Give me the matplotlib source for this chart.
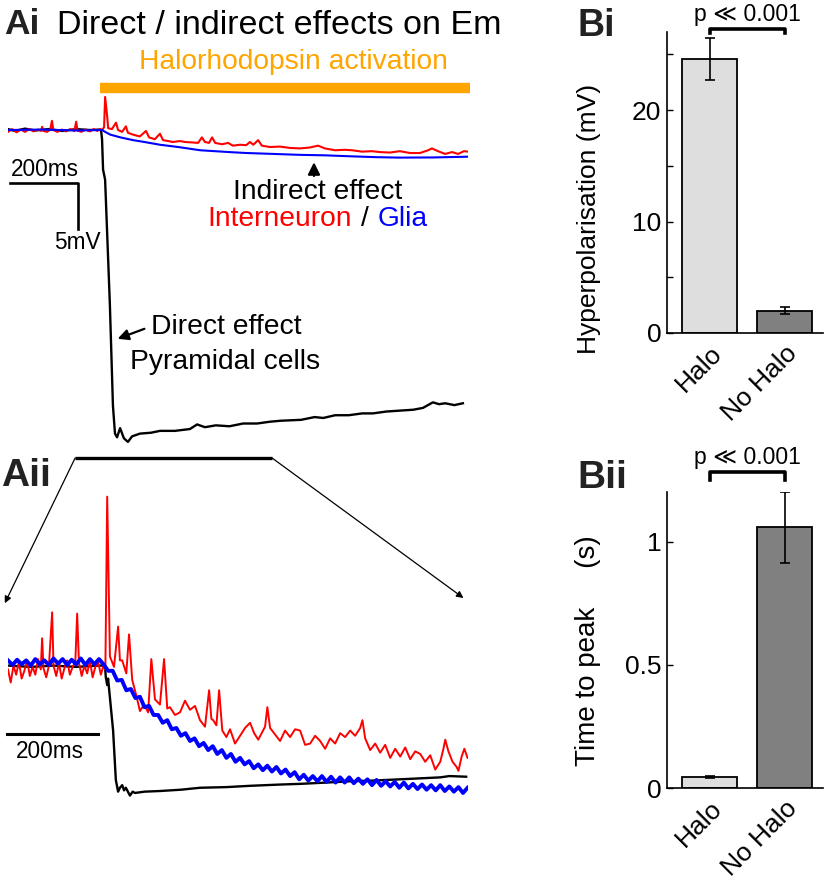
import numpy as np
import matplotlib
matplotlib.use("Agg")
import matplotlib.pyplot as plt
from matplotlib.patches import ConnectionPatch

plt.rcParams['font.family'] = ['Liberation Sans', 'DejaVu Sans']

# ---------------- data ----------------
# Ai: membrane potential (mV, relative to baseline) vs time (ms)
ai_black_t = [0, 20, 50, 80, 120, 160, 200, 240, 270, 273, 276, 279, 285, 299, 308, 314, 320, 329,
              340, 352, 364, 387, 420, 446, 490, 534, 555, 578, 610, 650, 690, 731, 770, 800, 860,
              900, 925, 960, 1000, 1040, 1071, 1110, 1150, 1190, 1218, 1247, 1265, 1283, 1310, 1335]
ai_black_v = [0.1, -0.1, 0.15, -0.05, 0.1, -0.1, 0.1, 0.0, 0.05, 0.0, -1.0, -4.3, -5.4, -19.0, -30.0,
              -33.0, -33.4, -32.4, -33.5, -33.9, -33.3, -33.0, -32.9, -32.7, -32.7, -32.5, -32.0, -32.3,
              -32.1, -32.2, -31.9, -31.9, -31.7, -31.6, -31.5, -31.2, -31.3, -31.0, -31.0, -30.8,
              -30.8, -30.6, -30.5, -30.4, -30.2, -29.6, -29.8, -29.7, -29.9, -29.7]

ai_red_t = [0, 12, 25, 38, 50, 62, 75, 88, 98, 100, 104, 115, 124, 129, 133, 145, 158, 170, 183, 195,
            200, 204, 215, 228, 240, 252, 262, 270, 276, 282, 285, 291, 294, 305, 317, 323, 335, 346,
            352, 367, 387, 405, 414, 431, 446, 455, 470, 484, 505, 519, 540, 558, 569, 578, 590, 599,
            608, 628, 646, 660, 681, 699, 710, 720, 734, 745, 769, 798, 828, 857, 886, 910, 930, 960,
            989, 1010, 1039, 1068, 1092, 1121, 1150, 1180, 1209, 1233, 1244, 1262, 1283, 1303, 1321,
            1338, 1350]
ai_red_v = [-0.2, 0.1, -0.25, 0.05, -0.2, 0.1, -0.15, 0.05, -0.1, 0.35, -0.1, -0.2, 0.05, 1.0, 0.0,
            -0.2, 0.05, -0.15, 0.1, -0.1, 0.9, -0.05, -0.2, 0.05, -0.15, 0.1, -0.1, 0.1, 0.0, 0.3,
            3.6, 1.5, 0.2, 0.1, 0.8, 0.0, -0.2, 0.4, -0.3, -0.5, -0.7, -0.1, -0.8, -1.0, -0.4, -1.1,
            -1.2, -1.3, -1.2, -1.3, -1.35, -1.4, -0.8, -1.3, -1.4, -0.8, -1.4, -1.55, -1.4, -1.7,
            -1.6, -1.65, -1.3, -1.6, -1.1, -1.7, -1.85, -1.8, -1.95, -2.0, -1.9, -1.7, -2.0, -2.2,
            -2.15, -2.2, -2.35, -2.3, -2.4, -2.45, -2.3, -2.5, -2.5, -2.2, -2.0, -2.3, -2.6, -2.4,
            -2.6, -2.3, -2.35]

ai_blue_t = [0, 100, 200, 276, 285, 300, 330, 367, 400, 446, 500, 564, 650, 700, 780, 857, 930,
             1000, 1080, 1150, 1250, 1350]
ai_blue_v = [0.0, 0.05, -0.05, 0.0, -0.2, -0.5, -0.8, -1.1, -1.3, -1.6, -1.85, -2.2, -2.4, -2.5,
             -2.6, -2.7, -2.75, -2.85, -2.95, -3.0, -2.98, -2.9]

light_on, light_off = 270, 1356          # halorhodopsin illumination (ms)
zoom_start, zoom_end = 197, 775          # window expanded in Aii (ms)

# Aii: expanded view (normalised units, black min ~ -10)
aii_black_t = [0, 50, 100, 150, 200, 213, 215, 218, 220, 231, 237, 242, 246, 251, 255, 259, 268,
               274, 279, 300, 334, 380, 422, 480, 532, 600, 642, 700, 752, 800, 862, 950, 970, 1007]
aii_black_v = [-0.2, -0.3, -0.2, -0.3, -0.2, -0.2, -1.1, -1.7, -1.2, -5.2, -9.0, -9.9, -9.6, -9.4,
               -9.8, -9.6, -10.2, -9.9, -10.0, -9.9, -9.85, -9.75, -9.6, -9.55, -9.45, -9.35, -9.3,
               -9.2, -9.1, -9.05, -8.95, -8.8, -8.7, -8.75]

aii_red_t = [0, 6, 12, 18, 24, 30, 36, 42, 48, 54, 60, 66, 72, 75, 78, 84, 90, 97, 100, 106, 112,
             118, 124, 130, 136, 142, 148, 152, 156, 162, 168, 174, 180, 186, 192, 198, 204, 210,
             214, 218, 224, 233, 242, 246, 251, 260, 266, 273, 282, 290, 299, 308, 315, 323, 334,
             343, 350, 356, 367, 378, 389, 400, 411, 422, 433, 442, 447, 451, 458, 464, 471, 480,
             488, 499, 510, 521, 532, 541, 550, 559, 565, 570, 576, 587, 598, 609, 620, 631, 642,
             653, 664, 675, 686, 697, 708, 719, 730, 741, 752, 763, 774, 779, 785, 796, 807, 818,
             829, 840, 851, 862, 873, 884, 895, 906, 917, 928, 939, 950, 957, 961, 968, 977, 986,
             990, 997, 1003, 1010]
aii_red_v = [-0.5, -1.5, -0.2, -0.9, 0.1, -1.2, -0.6, 0.2, -1.0, -0.3, -0.9, 0.3, -0.5, 1.9, -0.4,
             -1.1, -0.2, 3.9, -0.2, -1.0, 0.0, -1.2, -0.4, 0.2, -0.9, -0.3, 0.1, 3.8, 0.0, -1.0,
             -0.2, -0.8, 0.2, -1.1, -0.3, 0.1, -0.9, -0.2, -0.5, 12.8, 0.5, -0.3, 2.8, 0.2, 0.2,
             -0.8, 2.2, -1.3, -2.5, -3.7, -3.2, -3.8, 0.3, -2.8, -3.2, 0.3, -3.5, -3.4, -4.0, -3.8,
             -2.9, -3.6, -3.3, -4.4, -4.9, -2.1, -4.3, -4.4, -4.8, -2.1, -5.2, -5.7, -5.1, -6.2,
             -5.6, -5.0, -4.6, -5.4, -5.9, -5.3, -4.9, -3.4, -5.0, -5.5, -6.0, -5.2, -5.7, -5.1,
             -5.2, -6.3, -6.2, -5.6, -6.0, -6.6, -5.8, -6.2, -5.4, -5.7, -5.2, -5.6, -5.0, -4.4,
             -5.8, -6.7, -6.2, -6.9, -6.3, -7.3, -6.6, -7.2, -6.5, -7.4, -6.8, -7.0, -7.6, -7.1,
             -8.2, -7.6, -6.6, -5.9, -6.8, -7.6, -8.0, -8.3, -7.2, -6.6, -7.3]

aii_blue_t = np.arange(0, 1011, 10)
aii_blue_v = [0.2, -0.15, 0.25, -0.1, 0.2, -0.2, 0.3, -0.1, 0.2, -0.15, 0.35,
              -0.05, 0.3, -0.15, 0.25, -0.1, 0.35, -0.15, 0.3, -0.1, 0.3, -0.1,
              -0.6, -0.6, -1.35, -1.3, -2.1, -2.0, -2.7, -2.6, -3.4, -3.3,
              -4.0, -4.0, -4.6, -4.4, -5.1, -5.0, -5.6, -5.4, -6.0, -5.8,
              -6.4, -6.15, -6.7, -6.4, -7.0, -6.7, -7.3, -7.0, -7.6, -7.3,
              -7.8, -7.55, -8.1, -7.8, -8.25, -7.9, -8.35, -8.0, -8.5, -8.2,
              -8.7, -8.4, -8.95, -8.6, -9.05, -8.7, -9.1, -8.7, -9.15, -8.75,
              -9.2, -8.8, -9.2, -8.8, -9.25, -8.9, -9.3, -8.95, -9.4, -9.0,
              -9.45, -9.1, -9.5, -9.15, -9.6, -9.2, -9.65, -9.3, -9.7, -9.35,
              -9.75, -9.4, -9.8, -9.4, -9.85, -9.5, -9.9, -9.55, -10.0, -9.6]

# B: group summaries
groups = ['Halo', 'No Halo']
bar_colors = ['#dedede', '#808080']
hyper_mean = [24.6, 2.0]
hyper_err = [1.9, 0.3]
ttp_mean = [0.045, 1.06]
ttp_err = [0.004, 0.145]

# ---------------- figure ----------------
W, H = 826, 883
fig = plt.figure(figsize=(W / 100, H / 100), dpi=100)


def px_axes(x0, y0, x1, y1):
    return fig.add_axes([x0 / W, 1 - y1 / H, (x1 - x0) / W, (y1 - y0) / H])


# ---- Ai ----
ax_ai = px_axes(8, 75, 468, 465)
ax_ai.plot(ai_black_t, ai_black_v, color='black', lw=1.7)
ax_ai.plot(ai_red_t, ai_red_v, color='red', lw=1.5)
ax_ai.plot(ai_blue_t, ai_blue_v, color='blue', lw=1.5)
ax_ai.plot([light_on, light_off], [4.6, 4.6], color='#ffa500', lw=7.5,
           solid_capstyle='butt', clip_on=False)
# scale bars: 200 ms / 5 mV
ax_ai.plot([5, 205, 205], [-5.76, -5.76, -10.76], color='black', lw=1.9)
# window expanded below
ax_ai.plot([zoom_start, zoom_end], [-35.65, -35.65], color='black', lw=2.4,
           solid_capstyle='butt', clip_on=False)
ax_ai.set_xlim(0, 1350)
ax_ai.set_ylim(-36.41, 5.98)
ax_ai.axis('off')

# ---- Aii ----
ax_aii = px_axes(8, 480, 468, 830)
ax_aii.plot(aii_black_t, aii_black_v, color='black', lw=1.7)
ax_aii.plot(aii_red_t, aii_red_v, color='red', lw=1.4)
ax_aii.plot(aii_blue_t, aii_blue_v, color='blue', lw=2.8)
ax_aii.plot([-2, 198], [-5.46, -5.46], color='black', lw=2.2, clip_on=False)
ax_aii.set_xlim(0, 1011)
ax_aii.set_ylim(-12.85, 14.08)
ax_aii.axis('off')

for (xa, xb) in [(zoom_start, -7), (zoom_end, 1001)]:
    yb = 4.6 if xb < 0 else 5.0
    con = ConnectionPatch(xyA=(xa, -35.65), coordsA=ax_ai.transData,
                          xyB=(xb, yb), coordsB=ax_aii.transData,
                          arrowstyle='-|>', lw=0.9, color='black', mutation_scale=10)
    fig.add_artist(con)


# ---- B panels ----
def bar_panel(ax, means, errs, ymax, majors, minors, br_lo, br_hi):
    x = np.arange(len(groups))
    ax.bar(x, means, width=0.73, color=bar_colors, edgecolor='black', linewidth=1.3, zorder=2)
    ax.errorbar(x, means, yerr=errs, fmt='none', ecolor='black', elinewidth=1.2,
                capsize=3.5, capthick=1.2, zorder=3)
    ax.set_xlim(-0.567, 1.513)
    ax.set_ylim(0, ymax)
    ax.set_yticks(majors)
    ax.set_yticks(minors, minor=True)
    ax.set_yticklabels([('%g' % v) for v in majors])
    ax.set_xticks(x)
    ax.set_xticklabels(groups, rotation=45, ha='right', rotation_mode='anchor')
    for s in ['top', 'right']:
        ax.spines[s].set_visible(False)
    for s in ['left', 'bottom']:
        ax.spines[s].set_linewidth(1.2)
    ax.tick_params(axis='y', which='both', direction='in', length=4, width=1, labelsize=19, pad=4)
    ax.tick_params(axis='x', length=0, labelsize=19, pad=6)
    # significance bracket
    ax.plot([0, 0, 1, 1], [br_lo, br_hi, br_hi, br_lo], transform=ax.get_xaxis_transform(),
            color='black', lw=2.6, clip_on=False)


ax_bi = px_axes(667, 32, 823, 333)
bar_panel(ax_bi, hyper_mean, hyper_err, 27.0, [0, 10, 20], [5, 15, 25], 0.997, 1.01)
ax_bi.set_ylabel('Hyperpolarisation (mV)', fontsize=19)
ax_bi.yaxis.set_label_coords(-0.42, 0.38)

ax_bii = px_axes(667, 492, 823, 788)
bar_panel(ax_bii, ttp_mean, ttp_err, 1.203, [0, 0.5, 1], [], 1.04, 1.068)
ax_bii.set_ylabel('Time to peak     (s)', fontsize=20)
ax_bii.yaxis.set_label_coords(-0.42, 0.463)

# ---- text ----
def ftext(x, y, s, **kw):
    fig.text(x / W, 1 - y / H, s, **kw)


ftext(4, 24, 'Ai', fontsize=25.5, fontweight='bold', va='center', color='#222222')
ftext(57, 25, 'Direct / indirect effects on Em', fontsize=24.5, va='center')
ftext(293, 62, 'Halorhodopsin activation', fontsize=20.3, va='center', ha='center', color='#ffa500')
ftext(45, 169, '200ms', fontsize=16.3, va='center', ha='center')
ftext(77, 243, '5mV', fontsize=16.3, va='center', ha='center')
ftext(318, 192, 'Indirect effect', fontsize=20.3, va='center', ha='center')
ftext(352, 219, 'Interneuron', fontsize=20.3, va='center', ha='right', color='red')
ftext(365, 219, '/', fontsize=20.3, va='center', ha='center')
ftext(378, 219, 'Glia', fontsize=20.3, va='center', ha='left', color='blue')
ftext(151, 327, 'Direct effect', fontsize=20.3, va='center')
ftext(130, 362, 'Pyramidal cells', fontsize=20.3, va='center')
ftext(1, 476, 'Aii', fontsize=28, fontweight='bold', va='center', color='#222222')
ftext(50, 752, '200ms', fontsize=16.3, va='center', ha='center')
ftext(578, 26, 'Bi', fontsize=27, fontweight='bold', va='center', color='#222222')
ftext(577, 478, 'Bii', fontsize=28, fontweight='bold', va='center', color='#222222')
ftext(747, 15, 'p \u226a 0.001', fontsize=16.5, va='center', ha='center')
ftext(747, 458, 'p \u226a 0.001', fontsize=16.5, va='center', ha='center')

# arrows in Ai
ax_ai.annotate('', xy=(898, -3.2), xytext=(898, -5.3),
               arrowprops=dict(arrowstyle='-|>', color='black', lw=1.6, mutation_scale=18))
ax_ai.annotate('', xy=(314, -22.8), xytext=(408, -21.5),
               arrowprops=dict(arrowstyle='-|>', color='black', lw=1.6, mutation_scale=16))

fig.savefig('out.png', dpi=100)
